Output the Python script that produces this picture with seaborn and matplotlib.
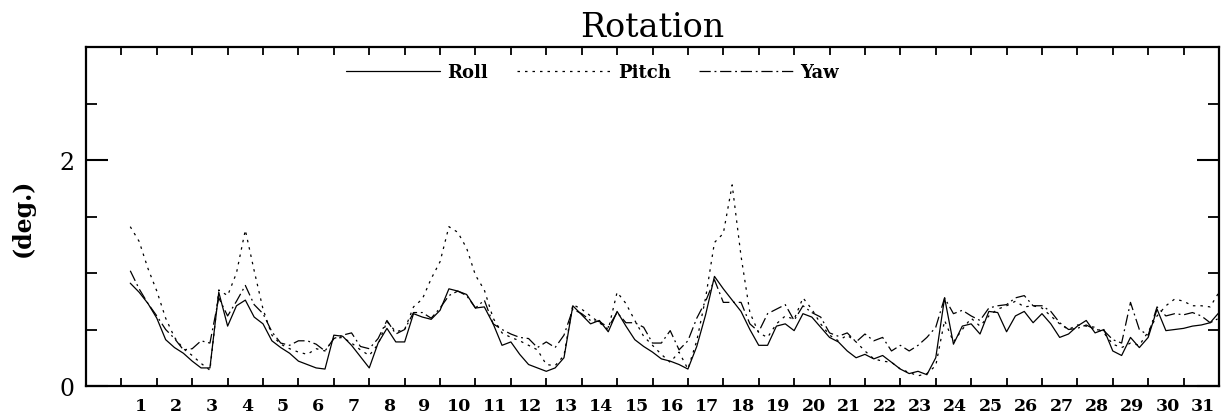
import numpy as np
import pandas as pd
import matplotlib
matplotlib.use("Agg")
import matplotlib.pyplot as plt
from matplotlib.ticker import MultipleLocator, FixedLocator, NullFormatter
import seaborn as sns

# ---- data (6-hourly samples, degrees) ----
roll = [0.91, 0.83, 0.73, 0.60, 0.41, 0.34, 0.29, 0.22, 0.16, 0.16, 0.83, 0.53,
        0.71, 0.76, 0.61, 0.55, 0.40, 0.34, 0.29, 0.22, 0.19, 0.16, 0.15, 0.45,
        0.44, 0.36, 0.26, 0.16, 0.38, 0.51, 0.39, 0.39, 0.64, 0.61, 0.59, 0.67,
        0.86, 0.84, 0.81, 0.69, 0.70, 0.55, 0.36, 0.39, 0.28, 0.19, 0.16, 0.13,
        0.16, 0.25, 0.71, 0.63, 0.55, 0.58, 0.48, 0.66, 0.53, 0.41, 0.35, 0.30,
        0.24, 0.22, 0.19, 0.15, 0.35, 0.63, 0.97, 0.86, 0.76, 0.66, 0.50, 0.36,
        0.36, 0.53, 0.55, 0.49, 0.64, 0.61, 0.52, 0.43, 0.39, 0.31, 0.25, 0.28,
        0.24, 0.27, 0.21, 0.15, 0.11, 0.13, 0.10, 0.25, 0.78, 0.37, 0.53, 0.55,
        0.46, 0.66, 0.65, 0.48, 0.62, 0.66, 0.56, 0.64, 0.55, 0.43, 0.46, 0.53,
        0.58, 0.47, 0.50, 0.31, 0.27, 0.43, 0.34, 0.43, 0.68, 0.49, 0.50, 0.51,
        0.53, 0.54, 0.56, 0.65]
pitch = [1.41, 1.28, 1.04, 0.84, 0.60, 0.43, 0.33, 0.27, 0.20, 0.14, 0.85, 0.80,
         1.00, 1.38, 1.02, 0.68, 0.45, 0.37, 0.33, 0.30, 0.28, 0.33, 0.31, 0.42,
         0.43, 0.38, 0.32, 0.27, 0.37, 0.57, 0.48, 0.50, 0.70, 0.77, 0.95, 1.10,
         1.41, 1.36, 1.22, 0.98, 0.85, 0.60, 0.47, 0.43, 0.40, 0.36, 0.32, 0.19,
         0.18, 0.27, 0.72, 0.68, 0.62, 0.56, 0.50, 0.83, 0.73, 0.58, 0.44, 0.36,
         0.28, 0.21, 0.30, 0.15, 0.40, 0.78, 1.27, 1.35, 1.78, 1.15, 0.65, 0.47,
         0.43, 0.55, 0.62, 0.59, 0.78, 0.68, 0.55, 0.45, 0.40, 0.45, 0.39, 0.31,
         0.24, 0.22, 0.21, 0.15, 0.12, 0.09, 0.11, 0.18, 0.58, 0.39, 0.50, 0.60,
         0.53, 0.62, 0.68, 0.71, 0.75, 0.70, 0.71, 0.69, 0.62, 0.55, 0.50, 0.54,
         0.53, 0.52, 0.47, 0.37, 0.34, 0.38, 0.36, 0.48, 0.62, 0.71, 0.77, 0.75,
         0.71, 0.71, 0.70, 0.83]
yaw = [1.02, 0.86, 0.73, 0.62, 0.50, 0.42, 0.32, 0.33, 0.40, 0.38, 0.78, 0.62,
       0.75, 0.89, 0.72, 0.64, 0.48, 0.38, 0.36, 0.40, 0.40, 0.37, 0.31, 0.42,
       0.45, 0.47, 0.35, 0.33, 0.42, 0.58, 0.46, 0.50, 0.65, 0.65, 0.60, 0.69,
       0.80, 0.84, 0.80, 0.69, 0.76, 0.55, 0.50, 0.46, 0.43, 0.42, 0.34, 0.39,
       0.34, 0.45, 0.68, 0.64, 0.58, 0.57, 0.52, 0.65, 0.56, 0.56, 0.52, 0.38,
       0.38, 0.49, 0.32, 0.40, 0.60, 0.75, 0.94, 0.74, 0.74, 0.74, 0.55, 0.48,
       0.64, 0.68, 0.72, 0.58, 0.71, 0.65, 0.61, 0.47, 0.44, 0.47, 0.39, 0.46,
       0.40, 0.43, 0.31, 0.36, 0.31, 0.36, 0.43, 0.52, 0.78, 0.64, 0.67, 0.62,
       0.58, 0.69, 0.71, 0.72, 0.78, 0.80, 0.71, 0.71, 0.66, 0.56, 0.50, 0.51,
       0.54, 0.50, 0.49, 0.41, 0.38, 0.74, 0.50, 0.45, 0.70, 0.62, 0.64, 0.63,
       0.65, 0.62, 0.56, 0.60]
series_names = ["Roll", "Pitch", "Yaw"]
day_labels = [str(k) for k in range(1, 32)]
y_tick_values = [0, 2]

# sample times in days since start of month (every 6 hours)
t = np.arange(1, len(roll) + 1) * 0.25

df = pd.concat([
    pd.DataFrame({"t": t, "deg": roll, "comp": "Roll"}),
    pd.DataFrame({"t": t, "deg": pitch, "comp": "Pitch"}),
    pd.DataFrame({"t": t, "deg": yaw, "comp": "Yaw"}),
], ignore_index=True)

sns.set_style("white")
plt.rcParams["font.family"] = ["DejaVu Serif"]
for key in ["text.color", "axes.labelcolor", "xtick.color", "ytick.color"]:
    plt.rcParams[key] = "black"

fig = plt.figure(figsize=(12.26, 4.14), dpi=100)
ax = fig.add_axes([86 / 1226, 1 - 387 / 414, (1219 - 86) / 1226, (387 - 48) / 414])

dashes = {"Roll": "", "Pitch": (2, 4), "Yaw": (9, 3, 1.5, 3)}
sns.lineplot(data=df, x="t", y="deg", hue="comp", style="comp",
             hue_order=series_names, style_order=series_names,
             palette=["black"] * 3, dashes=dashes, linewidth=0.9,
             ax=ax, legend=True)

ax.set_xlim(-1, 31)
ax.set_ylim(0, 3)

# x: day boundaries as ticks, labels in the middle of days
ax.xaxis.set_major_locator(FixedLocator(np.arange(0, 31)))
ax.xaxis.set_major_formatter(NullFormatter())
ax.xaxis.set_minor_locator(FixedLocator(np.arange(31) + 0.55))
ax.set_xticklabels(day_labels, minor=True)
ax.tick_params(axis="x", which="major", direction="in", length=6, width=1.3,
               top=True, bottom=True)
ax.tick_params(axis="x", which="minor", length=0, pad=8, labelsize=12.5)
for lab in ax.get_xticklabels(minor=True):
    lab.set_fontweight("semibold")

ax.yaxis.set_major_locator(FixedLocator(y_tick_values))
ax.set_yticklabels([str(v) for v in y_tick_values])
ax.yaxis.set_minor_locator(MultipleLocator(0.5))
ax.tick_params(axis="y", which="major", direction="in", length=16, width=1.5,
               left=True, right=True, labelsize=17, pad=8)
ax.tick_params(axis="y", which="minor", direction="in", length=8, width=1.3,
               left=True, right=True)

for sp in ax.spines.values():
    sp.set_linewidth(1.6)
    sp.set_color("black")

ax.set_xlabel("")
ax.set_ylabel("(deg.)", fontsize=17, fontweight="bold", labelpad=18)
ax.set_title("Rotation", fontsize=24, pad=8)

handles, labels = ax.get_legend_handles_labels()
ax.legend(handles, labels, ncol=3, frameon=False, loc="center",
          bbox_to_anchor=(0.447, 0.925), handlelength=5.2, handletextpad=0.4,
          columnspacing=1.6, prop={"family": "DejaVu Serif", "weight": "bold", "size": 13})

fig.savefig("out.png", dpi=100)
